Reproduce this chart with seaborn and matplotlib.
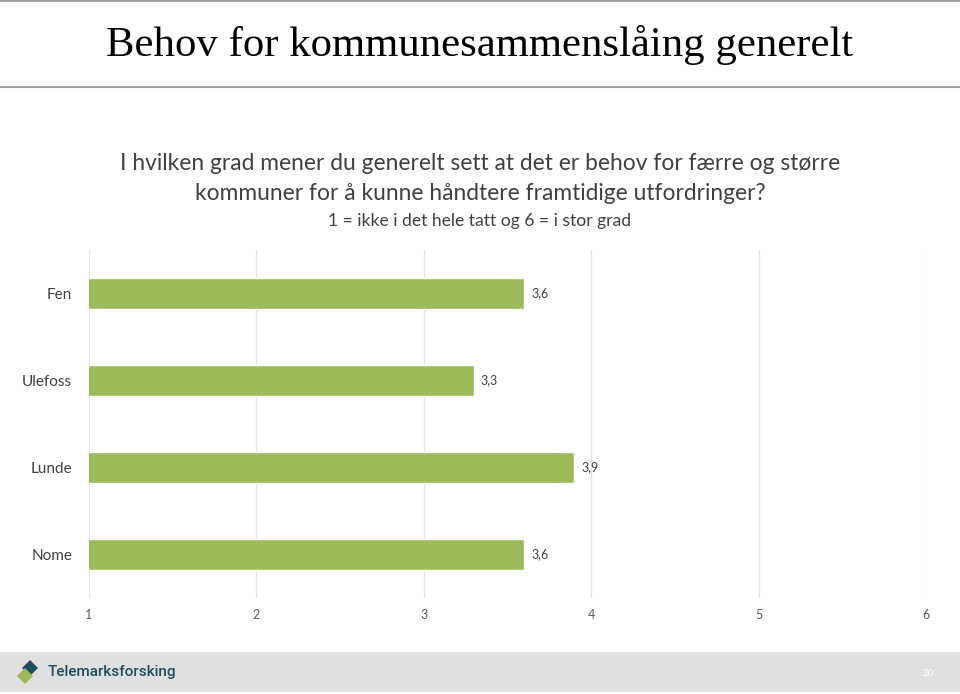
import numpy as np
import pandas as pd
import matplotlib
matplotlib.use('Agg')
import matplotlib.pyplot as plt
import seaborn as sns
from matplotlib.lines import Line2D
from matplotlib.patches import Rectangle, Polygon

kommuner = ['Fen', 'Ulefoss', 'Lunde', 'Nome']
snitt = [3.6, 3.3, 3.9, 3.6]
xticks = [1, 2, 3, 4, 5, 6]

df = pd.DataFrame({'kommune': kommuner, 'snitt': snitt})

sns.set_theme(style='white')
plt.rcParams['font.family'] = ['Lato', 'DejaVu Sans']

fig = plt.figure(figsize=(9.6, 6.94), dpi=100)

# header lines + title
fig.add_artist(Line2D([0, 1], [0.998, 0.998], color='#a0a0a0', lw=1.5))
fig.add_artist(Line2D([0, 1], [1 - 87/694, 1 - 87/694], color='#a0a0a0', lw=1.5))
fig.text(0.5, 1 - 45/694, 'Behov for kommunesammenslåing generelt', ha='center', va='center',
         fontsize=30.8, family='Liberation Serif', color='black')

fig.text(0.5, 1 - 164/694, 'I hvilken grad mener du generelt sett at det er behov for færre og større',
         ha='center', va='center', fontsize=16.4, color='#404040')
fig.text(0.5, 1 - 193/694, 'kommuner for å kunne håndtere framtidige utfordringer?',
         ha='center', va='center', fontsize=16.4, color='#404040')
fig.text(0.5, 1 - 221/694, '1 = ikke i det hele tatt og 6 = i stor grad',
         ha='center', va='center', fontsize=12.6, color='#404040')

ax = fig.add_axes([89/960, 1 - 598/694, 837/960, 348/694])
sns.barplot(data=df, x='snitt', y='kommune', orient='h', color='#9BBB59',
            saturation=1, width=0.345, ax=ax)
ax.set_xlim(1, 6)
ax.set_ylim(3.5, -0.5)
ax.set_xticks(xticks)
ax.set_xticklabels([str(t) for t in xticks], fontsize=9, color='#595959')
ax.set_xlabel('')
ax.set_ylabel('')
ax.tick_params(axis='y', labelsize=11, labelcolor='#404040', pad=12, length=0)
ax.tick_params(axis='x', pad=8, length=0)
ax.grid(axis='x', color='#e3e3e3', lw=0.9)
ax.set_axisbelow(True)
for s in ax.spines.values():
    s.set_visible(False)
for c in ax.containers:
    ax.bar_label(c, labels=[f'{v:.1f}'.replace('.', ',') for v in snitt],
                 padding=5, fontsize=9, color='#404040')

# footer band
fig.add_artist(Rectangle((0, 2/694), 1, 40/694, transform=fig.transFigure,
                         facecolor='#e0e0e0', edgecolor='none'))
fig.add_artist(Polygon([[22/960, 1 - 668/694], [30/960, 1 - 660/694], [38/960, 1 - 668/694], [30/960, 1 - 676/694]],
                       closed=True, transform=fig.transFigure, facecolor='#1f4e5f', edgecolor='none'))
fig.add_artist(Polygon([[17/960, 1 - 676/694], [25/960, 1 - 668/694], [33/960, 1 - 676/694], [25/960, 1 - 684/694]],
                       closed=True, transform=fig.transFigure, facecolor='#9BBB59', edgecolor='none'))
fig.text(48/960, 1 - 672/694, 'Telemarksforsking', ha='left', va='center', fontsize=11,
         color='#1f4e5f', fontweight='medium', family=['Roboto', 'DejaVu Sans'])
fig.text(928/960, 1 - 673/694, '20', ha='center', va='center', fontsize=7, color='white')

fig.savefig('out.png', dpi=100)
